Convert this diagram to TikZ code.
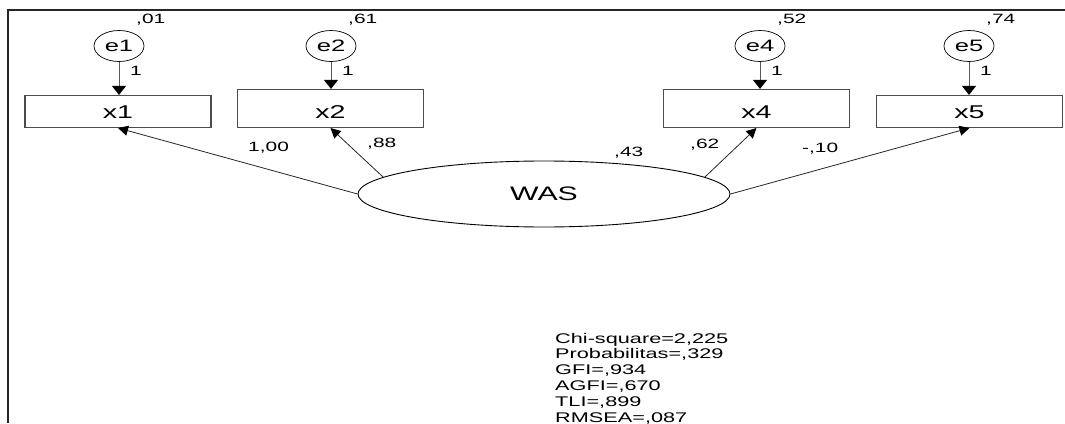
\documentclass[tikz,border=0pt]{standalone}
\usepackage{fontspec}
\setmainfont{Liberation Sans}[FakeStretch=1.55]
\usetikzlibrary{arrows.meta,shapes.geometric}
\newcommand{\bw}{186pt}

\begin{document}
\begin{tikzpicture}[x=1pt, y=-1pt,
    rect/.style={draw=black!70, line width=1.1pt, rectangle, anchor=south, minimum width=\bw, minimum height=32pt, inner sep=0pt, text height=13.4pt, text depth=0pt, font=\fontsize{18.5}{20}\selectfont},
    tallrect/.style={rect, minimum height=38pt, text height=19.4pt},
    err/.style={draw, ellipse, line width=0.7pt, minimum width=50pt, minimum height=31pt, inner sep=0pt, font=\fontsize{16.5}{18}\selectfont},
    num/.style={anchor=base west, inner sep=0pt, font=\fontsize{13.5}{15}\selectfont},
    fit/.style={anchor=base west, inner sep=0pt, font=\fontsize{14}{16}\selectfont},
    errline/.style={draw=black!65, line width=1pt, -{Triangle[length=9pt,width=14pt,black]}},
    loadline/.style={draw=black!85, line width=0.8pt, -{Triangle[length=10pt,width=10pt,black]}}]
    \useasboundingbox (0,0) rectangle (1065,423);

    % Frame
    \draw[line width=1.5pt, black!85] (1065,10) -- (8,10) -- (8,423);

    % Error terms
    \node[err] (e1) at (119,46) {e1};
    \node[err] (e2) at (331,46) {e2};
    \node[err] (e4) at (760,46) {e4};
    \node[err] (e5) at (969,46) {e5};

    \node[num] (v1) at (136,23.5) {,01};
    \node[num] (v2) at (348,23.5) {,61};
    \node[num] (v4) at (777,23.5) {,52};
    \node[num] (v5) at (986,23.5) {,74};

    % Indicators
    \node[rect] (x1) at (118,128) {x1};
    \node[tallrect] (x2) at (330.5,128) {x2};
    \node[tallrect] (x4) at (756.5,128) {x4};
    \node[rect] (x5) at (969.5,128) {x5};

    \draw[errline] (e1.south) -- (e1.south |- x1.north);
    \draw[errline] (e2.south) -- (e2.south |- x2.north);
    \draw[errline] (e4.south) -- (e4.south |- x4.north);
    \draw[errline] (e5.south) -- (e5.south |- x5.north);

    \node[num] (f1) at (130,75) {1};
    \node[num] (f2) at (342,75) {1};
    \node[num] (f4) at (771,75) {1};
    \node[num] (f5) at (980,75) {1};

    % Latent factor
    \node[draw, ellipse, line width=0.9pt, minimum width=372pt, minimum height=66pt, inner sep=0pt, font=\fontsize{19.5}{21}\selectfont] (WAS) at (544,194) {WAS};
    \node[num] (r2) at (614,156.5) {,43};

    \draw[loadline] (WAS.west) -- (x1.south);
    \draw[loadline] (WAS.174) -- (x2.south);
    \draw[loadline] (WAS.6) -- (x4.south);
    \draw[loadline] (WAS.east) -- (x5.south);

    \node[num] (l1) at (248,151.5) {1,00};
    \node[num] (l2) at (367,147.5) {,88};
    \node[num] (l4) at (690,148.5) {,62};
    \node[num] (l5) at (802,152.5) {-,10};

    % Fit indices
    \node[fit] (chi) at (555,343) {Chi-square=2,225};
    \node[fit] (prob) at (555,358.8) {Probabilitas=,329};
    \node[fit] (gfi) at (555,374.6) {GFI=,934};
    \node[fit] (agfi) at (555,390.4) {AGFI=,670};
    \node[fit] (tli) at (555,406.2) {TLI=,899};
    \node[fit] (rmsea) at (555,422) {RMSEA=,087};

\end{tikzpicture}
\end{document}
